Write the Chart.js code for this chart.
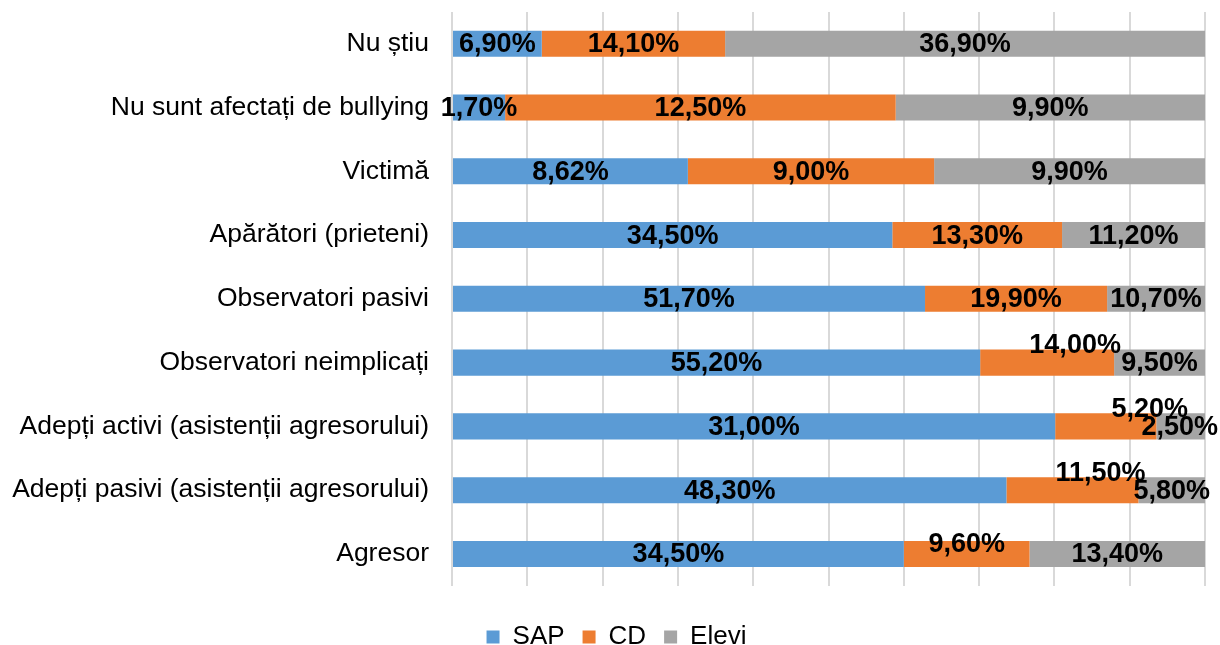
<!DOCTYPE html>
<html>
<head>
<meta charset="utf-8">
<script src="https://cdn.jsdelivr.net/npm/chart.js@4/dist/chart.umd.min.js"></script>
<style>
  html, body { margin: 0; padding: 0; background: #fff; overflow: hidden; }
  #wrap { width: 1220px; height: 679px; position: relative; top: -19px; }
</style>
</head>
<body>
<div id="wrap"><canvas id="chart"></canvas></div>
<script>
const categories = [
    'Nu știu',
    'Nu sunt afectați de bullying',
    'Victimă',
    'Apărători (prieteni)',
    'Observatori pasivi',
    'Observatori neimplicați',
    'Adepți activi (asistenții agresorului)',
    'Adepți pasivi (asistenții agresorului)',
    'Agresor'
];
const sap = [6.90, 1.70, 8.62, 34.50, 51.70, 55.20, 31.00, 48.30, 34.50];
const cd = [14.10, 12.50, 9.00, 13.30, 19.90, 14.00, 5.20, 11.50, 9.60];
const elevi = [36.90, 9.90, 9.90, 11.20, 10.70, 9.50, 2.50, 5.80, 13.40];

const raw = [sap, cd, elevi];
const totals = categories.map((_, i) => sap[i] + cd[i] + elevi[i]);
const share = arr => arr.map((v, i) => v / totals[i] * 100);

const fmt = v => v.toFixed(2).replace('.', ',') + '%';
const fontFamily = '"Liberation Sans", Arial, sans-serif';
const labelFont = 'bold 27px ' + fontFamily;

// value labels in the middle of each segment; a narrow CD segment gets its label lifted
const segmentLabels = {
    id: 'segmentLabels',
    afterLayout(chart) {
        // legend sits a little right of centre in the original
        chart.legend.left += 10;
        chart.legend.right += 10;
    },
    afterDatasetsDraw(chart) {
        const ctx = chart.ctx;
        ctx.save();
        ctx.font = labelFont;
        ctx.fillStyle = '#000';
        ctx.textAlign = 'center';
        ctx.textBaseline = 'middle';
        const metas = [0, 1, 2].map(d => chart.getDatasetMeta(d));
        categories.forEach((_, i) => {
            const boxes = metas.map((m, d) => {
                const bar = m.data[i];
                const text = fmt(raw[d][i]);
                const w = ctx.measureText(text).width;
                let cx = (bar.base + bar.x) / 2;
                cx = Math.min(cx, chart.width - 2 - w / 2);
                return { text, cx, w, y: bar.y + 1, seg: Math.abs(bar.x - bar.base) };
            });
            const mid = boxes[1], right = boxes[2];
            if (mid.seg < 140) {
                const gap = (right.cx - right.w / 2) - (mid.cx + mid.w / 2);
                mid.y -= gap < 40 ? 18 : 10;
                if (gap < 0) mid.cx += 44;
                else if (gap < 40) mid.cx += 28;
            }
            boxes.forEach(b => ctx.fillText(b.text, b.cx, b.y));
        });
        ctx.restore();
    }
};

new Chart(document.getElementById('chart'), {
    type: 'bar',
    data: {
        labels: categories,
        datasets: [
            { label: 'SAP', data: share(sap), backgroundColor: '#5B9BD5' },
            { label: 'CD', data: share(cd), backgroundColor: '#ED7D31' },
            { label: 'Elevi', data: share(elevi), backgroundColor: '#A5A5A5' }
        ]
    },
    options: {
        indexAxis: 'y',
        responsive: true,
        maintainAspectRatio: false,
        animation: false,
        layout: { padding: { top: 0, right: 15, left: 8, bottom: 0 } },
        datasets: {
            bar: { categoryPercentage: 0.8, barPercentage: 0.51, borderWidth: 0 }
        },
        scales: {
            x: {
                stacked: true,
                min: 0,
                max: 100,
                ticks: { display: false, stepSize: 10 },
                grid: { color: '#D9D9D9', lineWidth: 2, drawTicks: false },
                border: { display: false }
            },
            y: {
                stacked: true,
                grid: { display: false },
                border: { display: false },
                afterFit(scale) { scale.width = 444; },
                ticks: {
                    color: '#000',
                    padding: 15,
                    font: { family: fontFamily, size: 26.5 }
                }
            }
        },
        plugins: {
            legend: {
                position: 'bottom',
                title: { display: true, text: ' ', font: { size: 1 }, padding: { top: 10, bottom: 9 } },
                labels: {
                    boxWidth: 13,
                    boxHeight: 13,
                    padding: 18,
                    color: '#000',
                    font: { family: fontFamily, size: 26 }
                }
            },
            tooltip: { enabled: false }
        }
    },
    plugins: [segmentLabels]
});
</script>
</body>
</html>
